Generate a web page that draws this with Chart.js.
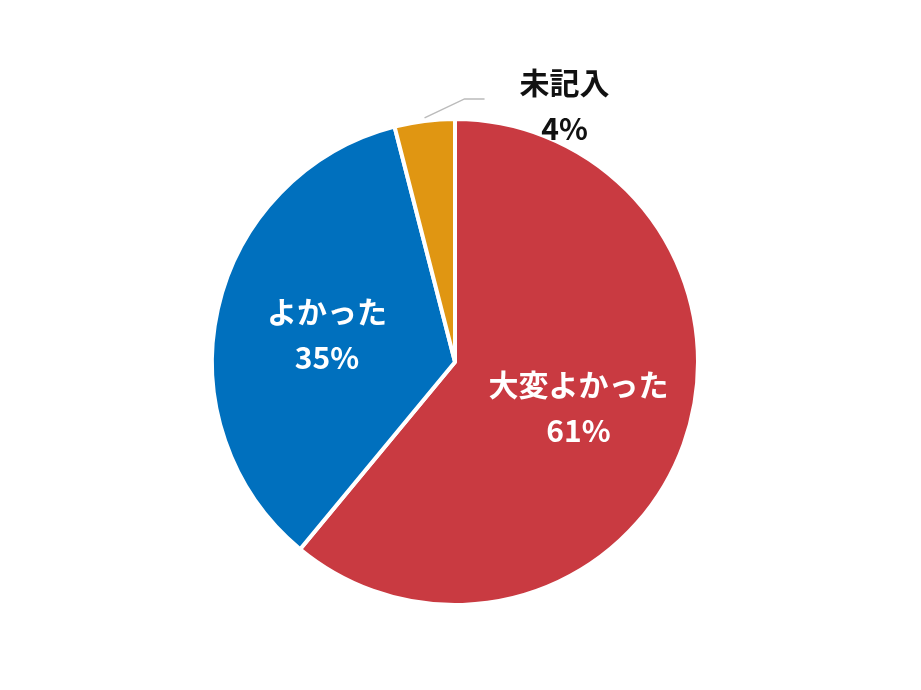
<!DOCTYPE html>
<html><head><meta charset="utf-8">
<script src="https://cdn.jsdelivr.net/npm/chart.js@4"></script>
<style>html,body{margin:0;background:#fff}#w{width:921px;height:690px}</style>
</head><body><div id="w"><canvas id="c"></canvas></div>
<script>
const categories = ["大変よかった", "よかった", "未記入"];
const values = [61, 35, 4];
const colors = ["#C93A41", "#0070BE", "#E09612"];
const FONT = '"Noto Sans CJK JP", sans-serif';
const labelPlugin = {
  id: 'lbl',
  afterDatasetsDraw(chart) {
    const ctx = chart.ctx;
    const meta = chart.getDatasetMeta(0);
    ctx.save();
    ctx.textAlign = 'center'; ctx.textBaseline = 'middle';
    ctx.font = 'bold 30px ' + FONT;
    meta.data.forEach((arc, i) => {
      const mid = (arc.startAngle + arc.endAngle) / 2;
      const R = arc.outerRadius, cx = arc.x, cy = arc.y;
      const txt = [categories[i], values[i] + '%'];
      if (i === 2) {
        const ax = cx + Math.cos(mid) * R, ay = cy + Math.sin(mid) * R;
        ctx.strokeStyle = '#bbb'; ctx.lineWidth = 1.5;
        ctx.beginPath(); ctx.moveTo(ax, ay - 3); ctx.lineTo(ax + 40, ay - 22); ctx.lineTo(ax + 60, ay - 22); ctx.stroke();
        ctx.fillStyle = '#111';
        ctx.fillText(txt[0], ax + 140, ay - 38);
        ctx.fillText(txt[1], ax + 140, ay + 8);
      } else {
        const r = R * 0.54;
        const x = cx + Math.cos(mid) * r, y = cy + Math.sin(mid) * r;
        ctx.fillStyle = '#fff';
        ctx.fillText(txt[0], x, y - 22);
        ctx.fillText(txt[1], x, y + 24);
      }
    });
    ctx.restore();
  }
};
new Chart(document.getElementById('c'), {
  type: 'pie',
  data: { labels: categories, datasets: [{ data: values, backgroundColor: colors, borderColor: '#fff', borderWidth: 4 }] },
  options: {
    responsive: true, maintainAspectRatio: false, animation: false,
    layout: { padding: { top: 117, bottom: 83, left: 0, right: 11 } },
    plugins: { legend: { display: false }, tooltip: { enabled: false } }
  },
  plugins: [labelPlugin]
});
</script></body></html>
